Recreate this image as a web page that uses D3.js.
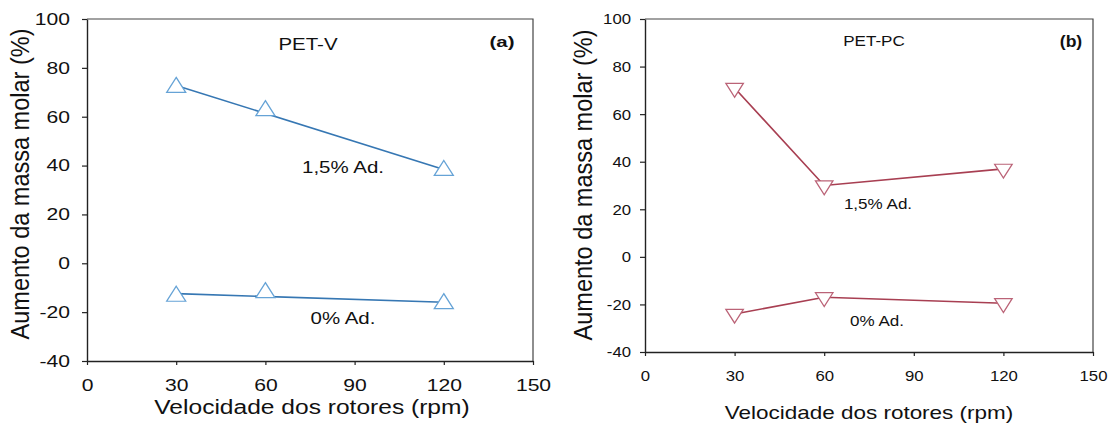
<!DOCTYPE html>
<html>
<head>
<meta charset="utf-8">
<script src="https://cdn.jsdelivr.net/npm/d3@7"></script>
<style>
  body { margin: 0; background: #fff; }
  text { font-family: "Liberation Sans", Arial, sans-serif; fill: #111; }
</style>
</head>
<body>
<svg id="chart" width="1113" height="424"></svg>
<script>
  // data
  const speeds = [30, 60, 120];
  const petV15 = [72, 62.5, 38];
  const petV0 = [-13.5, -12, -16.5];
  const petPC15 = [71, 30, 37];
  const petPC0 = [-24, -17, -19.5];

  const xTicks = [0, 30, 60, 90, 120, 150];
  const yTicks = [-40, -20, 0, 20, 40, 60, 80, 100];
  const xTitle = 'Velocidade dos rotores (rpm)';
  const yTitle = 'Aumento da massa molar (%)';

  const svg = d3.select('#chart');

  // scaled text: the scan is stretched sideways, so glyphs get an x scale
  function label(g, x, y, str, size, sx, weight) {
    g.append('text')
      .attr('transform', `translate(${x},${y}) scale(${sx},1)`)
      .attr('text-anchor', 'middle')
      .attr('dy', '0.35em')
      .style('font-size', `${size}px`)
      .style('font-weight', weight || 'normal')
      .text(str);
  }

  // least squares line through the points
  function fit(xs, ys) {
    const mx = d3.mean(xs);
    const my = d3.mean(ys);
    const sxy = d3.sum(xs, (v, i) => (v - mx) * (ys[i] - my));
    const sxx = d3.sum(xs, (v) => (v - mx) ** 2);
    const b = sxy / sxx;
    return (v) => my + b * (v - mx);
  }

  function drawPanel(p) {
    const g = svg.append('g');
    const x = d3.scaleLinear().domain([0, 150]).range([p.left, p.right]);
    const y = d3.scaleLinear().domain([-40, 100]).range([p.bottom, p.top]);

    // frame top and right
    g.append('path')
      .attr('d', `M${p.left},${p.top}H${p.right}V${p.bottom}`)
      .attr('fill', 'none')
      .attr('stroke', '#444')
      .attr('stroke-width', 1.2);

    const fmt = (d) => String(d); // plain hyphen for negatives, like the original
    const xAxis = g.append('g')
      .attr('transform', `translate(0,${p.bottom})`)
      .call(d3.axisBottom(x).tickValues(xTicks).tickFormat(fmt)
        .tickSize(4).tickSizeOuter(0).tickPadding(p.xPad));
    const yAxis = g.append('g')
      .attr('transform', `translate(${p.left},0)`)
      .call(d3.axisLeft(y).tickValues(yTicks).tickFormat(fmt)
        .tickSize(5).tickSizeOuter(0).tickPadding(p.yPad));

    [xAxis, yAxis].forEach((a) => {
      a.select('.domain').attr('stroke', '#222').attr('stroke-width', 1.4);
      a.selectAll('.tick line').attr('stroke', '#222').attr('stroke-width', 1.2);
      a.selectAll('text')
        .attr('fill', '#111')
        .style('font-size', `${p.tickSize}px`)
        .attr('font-family', null);
    });
    xAxis.selectAll('text').attr('transform', `scale(${p.tickSx},1)`);
    yAxis.selectAll('text')
      .attr('x', -(5 + p.yPad) / p.tickSx)
      .attr('transform', `scale(${p.tickSx},1)`);

    // axis titles
    label(g, p.xTitleX, p.xTitleY, xTitle, p.titleSize, p.titleSx);
    g.append('text')
      .attr('transform', `translate(${p.yTitleX},${p.yTitleY}) rotate(-90) scale(${p.yLenS},${p.yThickS})`)
      .attr('text-anchor', 'middle')
      .attr('dy', '0.35em')
      .style('font-size', `${p.yTitleSize}px`)
      .text(yTitle);

    const sym = d3.symbol(d3.symbolTriangle, p.markSize);

    p.series.forEach((s) => {
      let pts;
      if (p.regression) {
        const f = fit(speeds, s.values);
        const ext = d3.extent(speeds);
        pts = ext.map((v) => [x(v), y(f(v))]);
      } else {
        pts = speeds.map((v, i) => [x(v), y(s.values[i])]);
      }
      g.append('path')
        .attr('d', d3.line()(pts))
        .attr('fill', 'none')
        .attr('stroke', p.lineColor)
        .attr('stroke-width', 1.6);

      g.selectAll(null)
        .data(speeds)
        .join('path')
        .attr('d', sym)
        .attr('transform', (v, i) => `translate(${x(v)},${y(s.values[i])}) rotate(${p.down ? 180 : 0}) scale(${p.markSx},1)`)
        .attr('fill', '#fff')
        .attr('stroke', p.markColor)
        .attr('stroke-width', 1.2);

      label(g, s.lx, s.ly, s.name, p.noteSize, p.noteSx);
    });

    label(g, p.nameX, p.nameY, p.name, p.noteSize, p.noteSx);
    label(g, p.tagX, p.tagY, p.tag, p.tagSize, p.tagSx, 'bold');
  }

  drawPanel({
    left: 87, right: 533, top: 19, bottom: 361,
    xPad: 14, yPad: 12, tickSize: 16.5, tickSx: 1.28,
    titleSize: 21, titleSx: 1.17, xTitleX: 312, xTitleY: 407,
    yTitleSize: 21, yLenS: 1.12, yThickS: 1.2, yTitleX: 20, yTitleY: 184,
    noteSize: 16, noteSx: 1.28, tagSize: 15.5, tagSx: 1.32,
    name: 'PET-V', nameX: 308, nameY: 44, tag: '(a)', tagX: 502, tagY: 42,
    regression: true, down: false, markSize: 130, markSx: 1.1,
    lineColor: '#3677b3', markColor: '#66a3d6',
    series: [
      { name: '1,5% Ad.', values: petV15, lx: 343, ly: 167 },
      { name: '0% Ad.', values: petV0, lx: 343, ly: 318 },
    ],
  });

  drawPanel({
    left: 645, right: 1093, top: 19, bottom: 352,
    xPad: 14, yPad: 9, tickSize: 15.5, tickSx: 1.08,
    titleSize: 17.7, titleSx: 1.27, xTitleX: 869, xTitleY: 413,
    yTitleSize: 21, yLenS: 1.12, yThickS: 1.2, yTitleX: 583, yTitleY: 185,
    noteSize: 15.5, noteSx: 1.1, tagSize: 16, tagSx: 1.1,
    name: 'PET-PC', nameX: 874, nameY: 41, tag: '(b)', tagX: 1071, tagY: 41,
    regression: false, down: true, markSize: 110, markSx: 1.1,
    lineColor: '#a83f52', markColor: '#bb6377',
    series: [
      { name: '1,5% Ad.', values: petPC15, lx: 878, ly: 204 },
      { name: '0% Ad.', values: petPC0, lx: 877, ly: 321 },
    ],
  });
</script>
</body>
</html>
